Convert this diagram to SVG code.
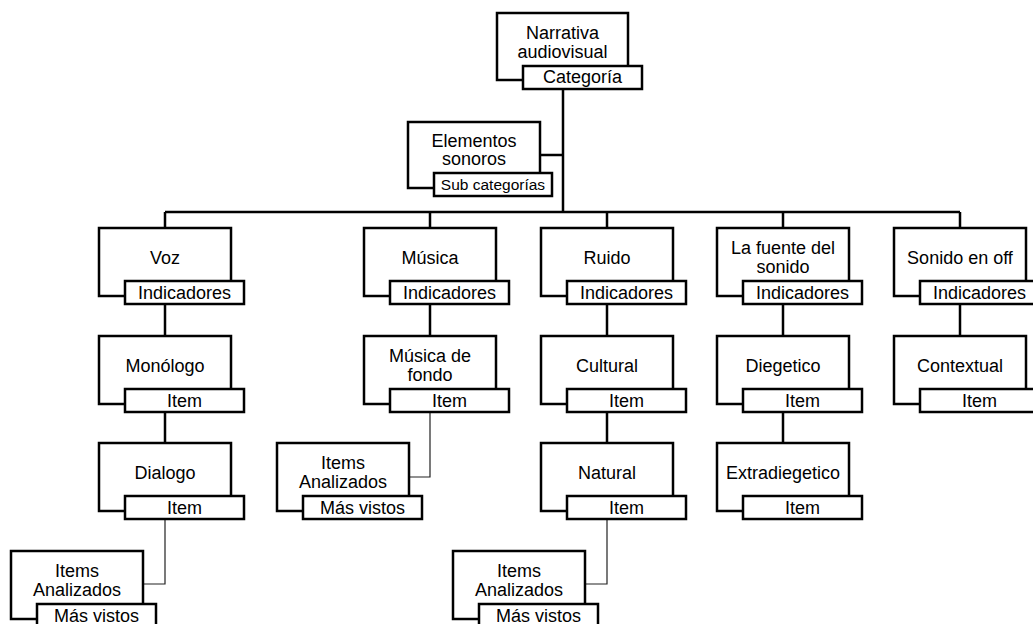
<svg xmlns="http://www.w3.org/2000/svg" width="1033" height="624" viewBox="0 0 1033 624">
<style>
.box{fill:#fff;stroke:#000;stroke-width:2.5}
.tab{fill:#fff;stroke:#000;stroke-width:2.5}
.t{font-family:"Liberation Sans",Arial,Helvetica,sans-serif;font-size:18px;fill:#000;text-anchor:middle}
.ts{font-size:15.5px}
.c{fill:none;stroke:#000;stroke-width:2.5}
.thin{fill:none;stroke:#222;stroke-width:1.2}
</style>
<rect width="1033" height="624" fill="#fff"/>
<g id="connectors">
<path class="c" d="M563,89 V212 M540,155 H563 M165,212 H960 M165,212 V228 M430,212 V228 M607,212 V228 M783,212 V228 M960,212 V228"/>
<path class="c" d="M165,303 V336 M165,411 V443 M430,303 V336 M607,303 V336 M607,411 V443 M783,303 V336 M783,411 V443 M960,303 V336"/>
<path class="thin" d="M165,519 V584 H143 M430,411 V477 H409 M607,519 V584 H585"/>
</g>
<g id="narrativa">
<rect class="box" x="497" y="13" width="131" height="67"/>
<rect class="tab" x="523" y="66" width="119" height="23"/>
<text class="t" x="562.5" y="39">Narrativa</text>
<text class="t" x="562.5" y="58">audiovisual</text>
<text class="t" x="582.5" y="83">Categoría</text>
</g>
<g id="elementos">
<rect class="box" x="408" y="122" width="132" height="66"/>
<rect class="tab" x="434" y="173" width="118" height="23"/>
<text class="t" x="474" y="147">Elementos</text>
<text class="t" x="474" y="165">sonoros</text>
<text class="t ts" x="493" y="190">Sub categorías</text>
</g>
<g id="voz">
<rect class="box" x="99" y="228" width="132" height="68"/>
<rect class="tab" x="125" y="281" width="119" height="23"/>
<text class="t" x="165" y="264">Voz</text>
<text class="t" x="184.5" y="299">Indicadores</text>
</g>
<g id="monologo">
<rect class="box" x="99" y="336" width="132" height="68"/>
<rect class="tab" x="125" y="389" width="119" height="23"/>
<text class="t" x="165" y="372">Monólogo</text>
<text class="t" x="184.5" y="407">Item</text>
</g>
<g id="dialogo">
<rect class="box" x="99" y="443" width="132" height="68"/>
<rect class="tab" x="125" y="496" width="119" height="23"/>
<text class="t" x="165" y="479">Dialogo</text>
<text class="t" x="184.5" y="514">Item</text>
</g>
<g id="items-voz">
<rect class="box" x="11" y="551" width="132" height="68"/>
<rect class="tab" x="37" y="604" width="119" height="23"/>
<text class="t" x="77" y="577">Items</text>
<text class="t" x="77" y="596">Analizados</text>
<text class="t" x="96.5" y="622">Más vistos</text>
</g>
<g id="musica">
<rect class="box" x="364" y="228" width="132" height="68"/>
<rect class="tab" x="390" y="281" width="119" height="23"/>
<text class="t" x="430" y="264">Música</text>
<text class="t" x="449.5" y="299">Indicadores</text>
</g>
<g id="musica-fondo">
<rect class="box" x="364" y="336" width="132" height="68"/>
<rect class="tab" x="390" y="389" width="119" height="23"/>
<text class="t" x="430" y="362">Música de</text>
<text class="t" x="430" y="381">fondo</text>
<text class="t" x="449.5" y="407">Item</text>
</g>
<g id="items-musica">
<rect class="box" x="277" y="443" width="132" height="68"/>
<rect class="tab" x="303" y="496" width="119" height="23"/>
<text class="t" x="343" y="469">Items</text>
<text class="t" x="343" y="488">Analizados</text>
<text class="t" x="362.5" y="514">Más vistos</text>
</g>
<g id="ruido">
<rect class="box" x="541" y="228" width="132" height="68"/>
<rect class="tab" x="567" y="281" width="119" height="23"/>
<text class="t" x="607" y="264">Ruido</text>
<text class="t" x="626.5" y="299">Indicadores</text>
</g>
<g id="cultural">
<rect class="box" x="541" y="336" width="132" height="68"/>
<rect class="tab" x="567" y="389" width="119" height="23"/>
<text class="t" x="607" y="372">Cultural</text>
<text class="t" x="626.5" y="407">Item</text>
</g>
<g id="natural">
<rect class="box" x="541" y="443" width="132" height="68"/>
<rect class="tab" x="567" y="496" width="119" height="23"/>
<text class="t" x="607" y="479">Natural</text>
<text class="t" x="626.5" y="514">Item</text>
</g>
<g id="items-ruido">
<rect class="box" x="453" y="551" width="132" height="68"/>
<rect class="tab" x="479" y="604" width="119" height="23"/>
<text class="t" x="519" y="577">Items</text>
<text class="t" x="519" y="596">Analizados</text>
<text class="t" x="538.5" y="622">Más vistos</text>
</g>
<g id="fuente">
<rect class="box" x="717" y="228" width="132" height="68"/>
<rect class="tab" x="743" y="281" width="119" height="23"/>
<text class="t" x="783" y="254">La fuente del</text>
<text class="t" x="783" y="273">sonido</text>
<text class="t" x="802.5" y="299">Indicadores</text>
</g>
<g id="diegetico">
<rect class="box" x="717" y="336" width="132" height="68"/>
<rect class="tab" x="743" y="389" width="119" height="23"/>
<text class="t" x="783" y="372">Diegetico</text>
<text class="t" x="802.5" y="407">Item</text>
</g>
<g id="extradiegetico">
<rect class="box" x="717" y="443" width="132" height="68"/>
<rect class="tab" x="743" y="496" width="119" height="23"/>
<text class="t" x="783" y="479">Extradiegetico</text>
<text class="t" x="802.5" y="514">Item</text>
</g>
<g id="sonido-off">
<rect class="box" x="894" y="228" width="132" height="68"/>
<rect class="tab" x="920" y="281" width="119" height="23"/>
<text class="t" x="960" y="264">Sonido en off</text>
<text class="t" x="979.5" y="299">Indicadores</text>
</g>
<g id="contextual">
<rect class="box" x="894" y="336" width="132" height="68"/>
<rect class="tab" x="920" y="389" width="119" height="23"/>
<text class="t" x="960" y="372">Contextual</text>
<text class="t" x="979.5" y="407">Item</text>
</g>
</svg>
